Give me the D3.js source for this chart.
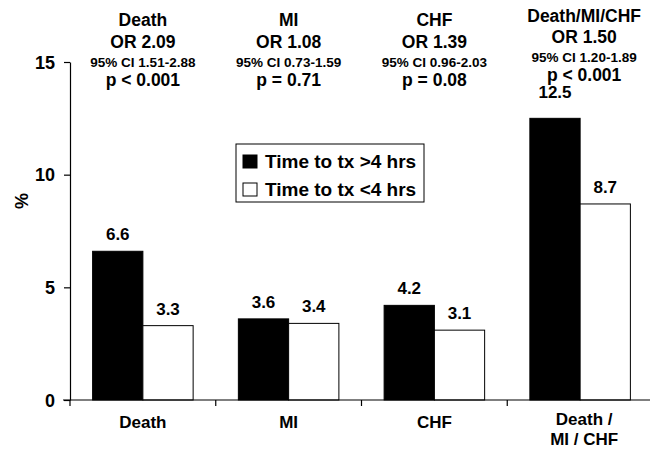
<!DOCTYPE html>
<html>
<head>
<meta charset="utf-8">
<script src="https://cdn.jsdelivr.net/npm/d3@7"></script>
<style>
  body { margin: 0; background: #fff; }
  svg text { font-family: "Liberation Sans", Arial, Helvetica, sans-serif; font-weight: bold; fill: #000; }
</style>
</head>
<body>
<svg id="chart" width="650" height="450"></svg>
<script>
// Outcome categories and event rates (%) by time to treatment
const categories = ["Death", "MI", "CHF", "Death/MI/CHF"];
const categoryLabels = [["Death"], ["MI"], ["CHF"], ["Death /", "MI / CHF"]];
const seriesNames = ["Time to tx >4 hrs", "Time to tx <4 hrs"];
const lateValues = [6.6, 3.6, 4.2, 12.5];
const earlyValues = [3.3, 3.4, 3.1, 8.7];
const yTicks = [0, 5, 10, 15];

// Odds ratio summaries shown above each group
const headTitles = ["Death", "MI", "CHF", "Death/MI/CHF"];
const oddsRatios = ["OR 2.09", "OR 1.08", "OR 1.39", "OR 1.50"];
const confIntervals = ["95% CI 1.51-2.88", "95% CI 0.73-1.59", "95% CI 0.96-2.03", "95% CI 1.20-1.89"];
const pValues = ["p < 0.001", "p = 0.71", "p = 0.08", "p < 0.001"];

const svg = d3.select("#chart");
const fills = ["#000", "#fff"];

const x = d3.scaleBand().domain(categories).range([70, 653]).padding(0);
const xInner = d3.scaleBand().domain(seriesNames).range([0, x.bandwidth()])
  .paddingInner(0).paddingOuter(0.45);
const y = d3.scaleLinear().domain([0, 15]).range([400, 62]);

const rows = categories.map((c, i) => ({
  cat: c,
  vals: [
    { s: seriesNames[0], v: lateValues[i], k: 0, lift: i === 3 ? 9 : 0 },
    { s: seriesNames[1], v: earlyValues[i], k: 1, lift: 0 }
  ]
}));

// Bars
const groups = svg.append("g").selectAll("g").data(rows).join("g")
  .attr("transform", d => `translate(${x(d.cat)},0)`);

groups.selectAll("rect").data(d => d.vals).join("rect")
  .attr("x", d => xInner(d.s))
  .attr("y", d => y(d.v))
  .attr("width", xInner.bandwidth())
  .attr("height", d => y(0) - y(d.v))
  .attr("fill", d => fills[d.k])
  .attr("stroke", "#000")
  .attr("stroke-width", 1);

// Value labels
groups.selectAll("text.val").data(d => d.vals).join("text")
  .attr("class", "val")
  .attr("x", d => xInner(d.s) + xInner.bandwidth() / 2)
  .attr("y", d => y(d.v) - 11 - d.lift)
  .attr("text-anchor", "middle")
  .attr("font-size", 17)
  .text(d => d.v.toFixed(1));

// Y axis
const yAxis = svg.append("g").attr("transform", "translate(70,0)")
  .call(d3.axisLeft(y).tickValues(yTicks).tickSize(6).tickSizeOuter(0).tickPadding(9));
yAxis.selectAll("text").attr("font-size", 18).attr("dy", "0.35em")
  .style("font-family", "'Liberation Sans', Arial, sans-serif").style("font-weight", "bold");
yAxis.selectAll("line, path").attr("stroke", "#000").attr("stroke-width", 1.2);

svg.append("text")
  .attr("transform", "translate(28,201) rotate(-90)")
  .attr("text-anchor", "middle")
  .attr("font-size", 18)
  .text("%");

// X axis baseline with ticks at group boundaries
const xAxisG = svg.append("g");
xAxisG.append("line")
  .attr("x1", 63).attr("x2", 650)
  .attr("y1", y(0)).attr("y2", y(0))
  .attr("stroke", "#000").attr("stroke-width", 1.2);
xAxisG.selectAll("line.tick").data(categories).join("line")
  .attr("class", "tick")
  .attr("x1", d => x(d)).attr("x2", d => x(d))
  .attr("y1", y(0)).attr("y2", y(0) + 6)
  .attr("stroke", "#000").attr("stroke-width", 1.2);

const labelShift = [0, 0, 0, 4];
xAxisG.selectAll("text.cat").data(categories).join("text")
  .attr("class", "cat")
  .attr("y", (d, i) => categoryLabels[i].length > 1 ? 425 : 428)
  .attr("text-anchor", "middle")
  .attr("font-size", 17)
  .each(function(d, i) {
    const cx = x(d) + x.bandwidth() / 2 + labelShift[i];
    d3.select(this).selectAll("tspan").data(categoryLabels[i]).join("tspan")
      .attr("x", cx)
      .attr("dy", (t, j) => j === 0 ? 0 : 20)
      .text(t => t);
  });

// Odds ratio headers: baselines for title, OR, CI and p-value lines
const headLines = [
  [26, 48, 67, 86], [26, 48, 67, 86], [26, 48, 67, 86], [22, 43, 62, 81]
];
const heads = svg.append("g").selectAll("g").data(categories).join("g")
  .attr("transform", (d, i) => `translate(${x(d) + x.bandwidth() / 2 + labelShift[i]},0)`);
heads.append("text").attr("y", (d, i) => headLines[i][0]).attr("text-anchor", "middle")
  .attr("font-size", 17.5).text((d, i) => headTitles[i]);
heads.append("text").attr("y", (d, i) => headLines[i][1]).attr("text-anchor", "middle")
  .attr("font-size", 17.5).text((d, i) => oddsRatios[i]);
heads.append("text").attr("y", (d, i) => headLines[i][2]).attr("text-anchor", "middle")
  .attr("font-size", 13.5).text((d, i) => confIntervals[i]);
heads.append("text").attr("y", (d, i) => headLines[i][3]).attr("text-anchor", "middle")
  .attr("font-size", 17.5).text((d, i) => pValues[i]);

// Legend
const legend = svg.append("g").attr("transform", "translate(236,144)");
legend.append("rect").attr("width", 188).attr("height", 58)
  .attr("fill", "#fff").attr("stroke", "#000").attr("stroke-width", 1);
const items = legend.selectAll("g").data(seriesNames).join("g")
  .attr("transform", (d, i) => `translate(7,${11 + i * 28})`);
items.append("rect").attr("width", 14).attr("height", 13)
  .attr("fill", (d, i) => fills[i]).attr("stroke", "#000").attr("stroke-width", 1);
items.append("text").attr("x", 22).attr("y", 13).attr("font-size", 19).text(d => d);
</script>
</body>
</html>
